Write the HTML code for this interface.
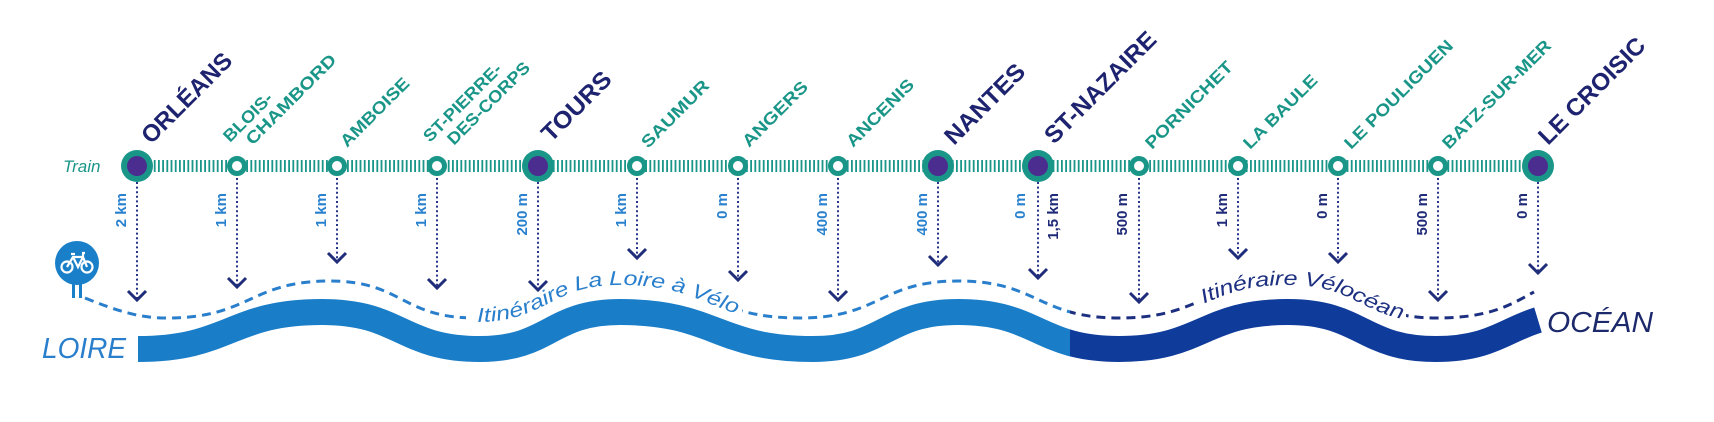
<!DOCTYPE html>
<html><head><meta charset="utf-8"><style>
html,body{margin:0;padding:0;background:#fff;}
svg{display:block;}
text{font-family:"Liberation Sans",sans-serif;}
.maj{font-weight:bold;font-size:24px;fill:#1e2370;}
.min{font-weight:bold;font-size:17px;fill:#1a9688;}
.dl{font-weight:bold;font-size:15px;fill:#2a82cf;}
.dn{font-weight:bold;font-size:15px;fill:#1f2b78;}
</style></head><body>
<svg width="1714" height="422" viewBox="0 0 1714 422" xmlns="http://www.w3.org/2000/svg">
<defs>
<clipPath id="cl"><rect x="0" y="0" width="1070" height="422"/></clipPath>
<clipPath id="cr"><rect x="1070" y="0" width="700" height="422"/></clipPath>
<mask id="m"><rect x="0" y="0" width="1714" height="422" fill="#fff"/><rect x="466" y="200" width="276" height="150" fill="#000"/><rect x="1196" y="200" width="210" height="150" fill="#000"/></mask>
<path id="tp1" d="M475,318 C547,318 548,281 620,281 C710,281 710,318 800,318"/>
<path id="tp2" d="M1119,318 C1203,318 1204,281 1288,281 C1362,281 1362,318 1436,318"/>
</defs>

<g fill="none" stroke-width="26">
<path clip-path="url(#cl)" stroke="#1a7dc8" d="M138,349 C230,349 230,312 322,312 C401,312 401,349 480,349 C550,349 550,312 620,312 C716,312 716,349 813,349 C885,349 885,312 958,312 C1038,312 1038,349 1119,349 C1203,349 1203,312 1288,312 C1362,312 1362,349 1436,349 C1490,349 1505,330 1538,320"/>
<path clip-path="url(#cr)" stroke="#0f3b9b" d="M138,349 C230,349 230,312 322,312 C401,312 401,349 480,349 C550,349 550,312 620,312 C716,312 716,349 813,349 C885,349 885,312 958,312 C1038,312 1038,349 1119,349 C1203,349 1203,312 1288,312 C1362,312 1362,349 1436,349 C1490,349 1505,330 1538,320"/>
</g>

<g fill="none" stroke-width="3" stroke-dasharray="9 6" mask="url(#m)">
<path clip-path="url(#cl)" stroke="#2a7fcc" d="M85,298 C120,312 140,318 167,318 C250,318 250,281 330,281 C402,281 402,318 475,318 C547,318 548,281 620,281 C710,281 710,318 800,318 C880,318 880,281 958,281 C1038,281 1038,318 1119,318 C1203,318 1204,281 1288,281 C1362,281 1362,318 1436,318 C1490,318 1510,305 1534,292"/>
<path clip-path="url(#cr)" stroke="#1c2f80" d="M85,298 C120,312 140,318 167,318 C250,318 250,281 330,281 C402,281 402,318 475,318 C547,318 548,281 620,281 C710,281 710,318 800,318 C880,318 880,281 958,281 C1038,281 1038,318 1119,318 C1203,318 1204,281 1288,281 C1362,281 1362,318 1436,318 C1490,318 1510,305 1534,292"/>
</g>
<text style="font-style:italic;font-size:20px;fill:#2a7fcc" dy="4"><textPath href="#tp1" startOffset="2" textLength="272" lengthAdjust="spacingAndGlyphs">Itinéraire La Loire à Vélo</textPath></text>
<text style="font-style:italic;font-size:20px;fill:#1c2f80" dy="4"><textPath href="#tp2" startOffset="86" textLength="210" lengthAdjust="spacingAndGlyphs">Itinéraire Vélocéan</textPath></text>

<text x="42" y="358" style="font-style:italic;font-size:29px;fill:#2a7fcc" textLength="84" lengthAdjust="spacingAndGlyphs">LOIRE</text>
<text x="1547" y="332" style="font-style:italic;font-size:29px;fill:#1c2a6b" textLength="106" lengthAdjust="spacingAndGlyphs">OCÉAN</text>

<g>
<rect x="72" y="283" width="3" height="15" fill="#1a7fc9"/><rect x="79" y="283" width="3" height="15" fill="#1a7fc9"/>
<circle cx="77" cy="263" r="22" fill="#1a7fc9"/>
<g fill="none" stroke="#fff" stroke-width="2.2">
<circle cx="67" cy="267" r="5.5"/><circle cx="87" cy="267" r="5.5"/>
<path d="M67,267 L73,257 L83,257 L87,267 M73,257 L78,267 L83,257 M82,253 L85,253 M83,253 L83,257 M71,254 L75,254"/>
</g>
</g>

<text x="63" y="172" style="font-style:italic;font-size:17px;fill:#1a9688">Train</text>
<line x1="137" y1="166" x2="1538" y2="166" stroke="#1a9688" stroke-width="12" stroke-dasharray="1.8 2.4"/>

<g stroke="#26358a" stroke-width="2" fill="none">
<g stroke-dasharray="2 2.6">
<line x1="137" y1="182" x2="137" y2="299"/><line x1="237" y1="178" x2="237" y2="286"/><line x1="337" y1="178" x2="337" y2="261"/><line x1="437" y1="178" x2="437" y2="287"/><line x1="538" y1="182" x2="538" y2="289"/><line x1="637" y1="178" x2="637" y2="257"/><line x1="738" y1="178" x2="738" y2="279"/><line x1="838" y1="178" x2="838" y2="299"/><line x1="938" y1="182" x2="938" y2="264"/><line x1="1038" y1="182" x2="1038" y2="277"/><line x1="1139" y1="178" x2="1139" y2="301"/><line x1="1238" y1="178" x2="1238" y2="257"/><line x1="1338" y1="178" x2="1338" y2="261"/><line x1="1438" y1="178" x2="1438" y2="299"/><line x1="1538" y1="182" x2="1538" y2="272"/>
</g>
<g stroke-width="3" stroke="#1f2d7a">
<path d="M128,291 L137,300 L146,291"/><path d="M228,278 L237,287 L246,278"/><path d="M328,253 L337,262 L346,253"/><path d="M428,279 L437,288 L446,279"/><path d="M529,281 L538,290 L547,281"/><path d="M628,249 L637,258 L646,249"/><path d="M729,271 L738,280 L747,271"/><path d="M829,291 L838,300 L847,291"/><path d="M929,256 L938,265 L947,256"/><path d="M1029,269 L1038,278 L1047,269"/><path d="M1130,293 L1139,302 L1148,293"/><path d="M1229,249 L1238,258 L1247,249"/><path d="M1329,253 L1338,262 L1347,253"/><path d="M1429,291 L1438,300 L1447,291"/><path d="M1529,264 L1538,273 L1547,264"/>
</g>
</g>

<g text-anchor="end">
<text class="dl" transform="translate(126,193) rotate(-90)">2 km</text>
<text class="dl" transform="translate(226,193) rotate(-90)">1 km</text>
<text class="dl" transform="translate(326,193) rotate(-90)">1 km</text>
<text class="dl" transform="translate(426,193) rotate(-90)">1 km</text>
<text class="dl" transform="translate(527,193) rotate(-90)">200 m</text>
<text class="dl" transform="translate(626,193) rotate(-90)">1 km</text>
<text class="dl" transform="translate(727,193) rotate(-90)">0 m</text>
<text class="dl" transform="translate(827,193) rotate(-90)">400 m</text>
<text class="dl" transform="translate(927,193) rotate(-90)">400 m</text>
<text class="dl" transform="translate(1025,193) rotate(-90)">0 m</text>
<text class="dn" transform="translate(1058,193) rotate(-90)">1,5 km</text>
<text class="dn" transform="translate(1127,193) rotate(-90)">500 m</text>
<text class="dn" transform="translate(1227,193) rotate(-90)">1 km</text>
<text class="dn" transform="translate(1327,193) rotate(-90)">0 m</text>
<text class="dn" transform="translate(1427,193) rotate(-90)">500 m</text>
<text class="dn" transform="translate(1527,193) rotate(-90)">0 m</text>
</g>

<g>
<g fill="#1a9688"><circle cx="137" cy="166" r="16"/><circle cx="538" cy="166" r="16"/><circle cx="938" cy="166" r="16"/><circle cx="1038" cy="166" r="16"/><circle cx="1538" cy="166" r="16"/></g>
<g fill="#4b2d8f"><circle cx="137" cy="166" r="10"/><circle cx="538" cy="166" r="10"/><circle cx="938" cy="166" r="10"/><circle cx="1038" cy="166" r="10"/><circle cx="1538" cy="166" r="10"/></g>
<g fill="#fff" stroke="#1a9688" stroke-width="5"><circle cx="237" cy="166" r="7.5"/><circle cx="337" cy="166" r="7.5"/><circle cx="437" cy="166" r="7.5"/><circle cx="637" cy="166" r="7.5"/><circle cx="738" cy="166" r="7.5"/><circle cx="838" cy="166" r="7.5"/><circle cx="1139" cy="166" r="7.5"/><circle cx="1238" cy="166" r="7.5"/><circle cx="1338" cy="166" r="7.5"/><circle cx="1438" cy="166" r="7.5"/></g>
</g>

<g>
<text class="maj" transform="translate(151,145) rotate(-45)" textLength="117" lengthAdjust="spacingAndGlyphs">ORLÉANS</text>
<g transform="translate(230,143) rotate(-45)"><text class="min" x="0" y="0" textLength="62" lengthAdjust="spacingAndGlyphs">BLOIS-</text><text class="min" x="14" y="18" textLength="120" lengthAdjust="spacingAndGlyphs">CHAMBORD</text></g>
<text class="min" transform="translate(347,148) rotate(-45)" textLength="90" lengthAdjust="spacingAndGlyphs">AMBOISE</text>
<g transform="translate(430,143) rotate(-45)"><text class="min" x="0" y="0" textLength="103" lengthAdjust="spacingAndGlyphs">ST-PIERRE-</text><text class="min" x="15" y="19" textLength="109" lengthAdjust="spacingAndGlyphs">DES-CORPS</text></g>
<text class="maj" transform="translate(551,143) rotate(-45)" textLength="88" lengthAdjust="spacingAndGlyphs">TOURS</text>
<text class="min" transform="translate(648,149) rotate(-45)" textLength="88" lengthAdjust="spacingAndGlyphs">SAUMUR</text>
<text class="min" transform="translate(749,148) rotate(-45)" textLength="85" lengthAdjust="spacingAndGlyphs">ANGERS</text>
<text class="min" transform="translate(853,148) rotate(-45)" textLength="88" lengthAdjust="spacingAndGlyphs">ANCENIS</text>
<text class="maj" transform="translate(954,146) rotate(-45)" textLength="103" lengthAdjust="spacingAndGlyphs">NANTES</text>
<text class="maj" transform="translate(1054,145) rotate(-45)" textLength="147" lengthAdjust="spacingAndGlyphs">ST-NAZAIRE</text>
<text class="min" transform="translate(1152,150) rotate(-45)" textLength="116" lengthAdjust="spacingAndGlyphs">PORNICHET</text>
<text class="min" transform="translate(1250,150) rotate(-45)" textLength="97" lengthAdjust="spacingAndGlyphs">LA BAULE</text>
<text class="min" transform="translate(1351,150) rotate(-45)" textLength="146" lengthAdjust="spacingAndGlyphs">LE POULIGUEN</text>
<text class="min" transform="translate(1449,150) rotate(-45)" textLength="146" lengthAdjust="spacingAndGlyphs">BATZ-SUR-MER</text>
<text class="maj" transform="translate(1548,146) rotate(-45)" textLength="140" lengthAdjust="spacingAndGlyphs">LE CROISIC</text>
</g>
</svg>
</body></html>
